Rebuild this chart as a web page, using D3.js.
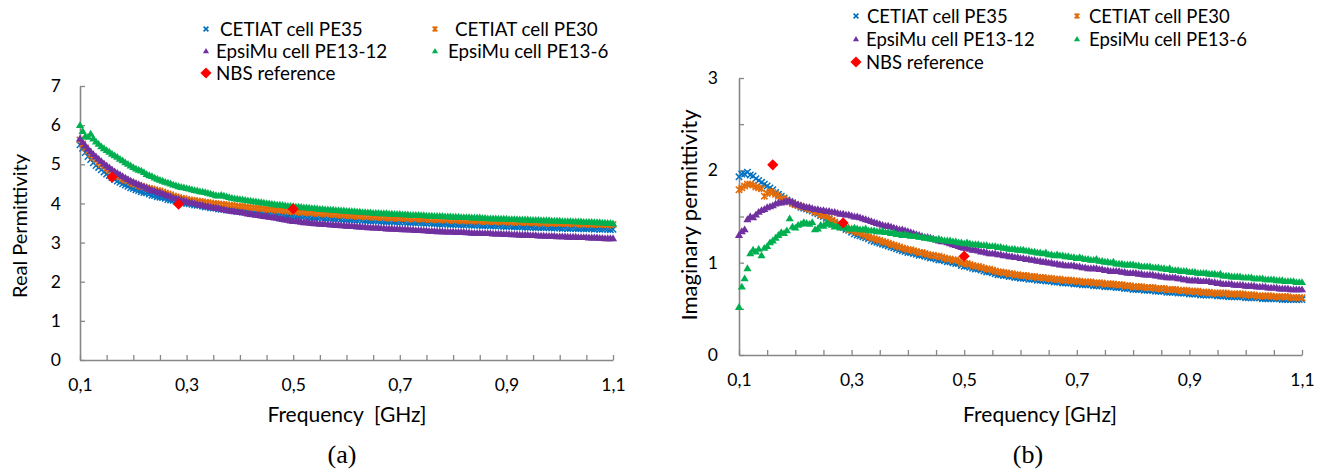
<!DOCTYPE html>
<html>
<head>
<meta charset="utf-8">
<script src="https://cdn.jsdelivr.net/npm/d3@7"></script>
<style>
  body { margin: 0; background: #fff; }
  svg { display: block; }
  text { font-family: Lato, "Open Sans", sans-serif; fill: #000; }
  .caption { font-family: "Liberation Serif", "Times New Roman", serif; }
</style>
</head>
<body>
<svg id="chart" width="1317" height="469"></svg>
<script>
// Measurement frequencies (GHz), 5 MHz sweep
const freq = [
  0.100,0.105,0.110,0.115,0.120,0.125,0.130,0.135,0.140,0.145,0.150,0.155,0.160,0.165,0.170,0.175,0.180,0.185,0.190,0.195,
  0.200,0.205,0.210,0.215,0.220,0.225,0.230,0.235,0.240,0.245,0.250,0.255,0.260,0.265,0.270,0.275,0.280,0.285,0.290,0.295,
  0.300,0.305,0.310,0.315,0.320,0.325,0.330,0.335,0.340,0.345,0.350,0.355,0.360,0.365,0.370,0.375,0.380,0.385,0.390,0.395,
  0.400,0.405,0.410,0.415,0.420,0.425,0.430,0.435,0.440,0.445,0.450,0.455,0.460,0.465,0.470,0.475,0.480,0.485,0.490,0.495,
  0.500,0.505,0.510,0.515,0.520,0.525,0.530,0.535,0.540,0.545,0.550,0.555,0.560,0.565,0.570,0.575,0.580,0.585,0.590,0.595,
  0.600,0.605,0.610,0.615,0.620,0.625,0.630,0.635,0.640,0.645,0.650,0.655,0.660,0.665,0.670,0.675,0.680,0.685,0.690,0.695,
  0.700,0.705,0.710,0.715,0.720,0.725,0.730,0.735,0.740,0.745,0.750,0.755,0.760,0.765,0.770,0.775,0.780,0.785,0.790,0.795,
  0.800,0.805,0.810,0.815,0.820,0.825,0.830,0.835,0.840,0.845,0.850,0.855,0.860,0.865,0.870,0.875,0.880,0.885,0.890,0.895,
  0.900,0.905,0.910,0.915,0.920,0.925,0.930,0.935,0.940,0.945,0.950,0.955,0.960,0.965,0.970,0.975,0.980,0.985,0.990,0.995,
  1.000,1.005,1.010,1.015,1.020,1.025,1.030,1.035,1.040,1.045,1.050,1.055,1.060,1.065,1.070,1.075,1.080,1.085,1.090,1.095,
  1.100
];

const seriesNames = ["CETIAT cell PE35", "CETIAT cell PE30", "EpsiMu cell PE13-12", "EpsiMu cell PE13-6"];
const refName = "NBS reference";

// Real part of permittivity
const realPE35 = [
  5.50,5.41,5.30,5.20,5.12,5.04,4.97,4.92,4.86,4.80,4.75,4.71,4.66,4.61,4.57,4.54,4.50,4.47,4.44,4.40,
  4.38,4.35,4.33,4.30,4.28,4.27,4.24,4.21,4.20,4.17,4.16,4.15,4.13,4.10,4.09,4.08,4.06,4.04,4.03,4.02,
  4.00,3.99,3.98,3.96,3.95,3.95,3.93,3.91,3.91,3.89,3.88,3.88,3.86,3.85,3.85,3.83,3.83,3.82,3.81,3.80,
  3.80,3.78,3.78,3.77,3.77,3.75,3.75,3.75,3.74,3.72,3.73,3.72,3.71,3.72,3.70,3.69,3.69,3.70,3.68,3.67,
  3.67,3.66,3.65,3.66,3.66,3.64,3.64,3.63,3.63,3.63,3.64,3.62,3.61,3.62,3.62,3.60,3.60,3.61,3.59,3.59,
  3.59,3.58,3.58,3.57,3.57,3.58,3.57,3.56,3.56,3.55,3.55,3.56,3.55,3.54,3.54,3.53,3.53,3.54,3.53,3.52,
  3.52,3.53,3.52,3.51,3.51,3.51,3.50,3.51,3.50,3.49,3.49,3.50,3.49,3.48,3.48,3.47,3.47,3.48,3.47,3.46,
  3.46,3.47,3.46,3.45,3.45,3.46,3.45,3.44,3.44,3.45,3.44,3.43,3.43,3.44,3.43,3.42,3.42,3.43,3.42,3.41,
  3.41,3.42,3.41,3.40,3.40,3.41,3.40,3.39,3.39,3.40,3.39,3.38,3.39,3.38,3.38,3.39,3.38,3.37,3.37,3.38,
  3.37,3.36,3.37,3.36,3.36,3.37,3.36,3.35,3.36,3.35,3.35,3.36,3.35,3.34,3.35,3.34,3.34,3.35,3.34,3.33,
  3.34
];
const realPE30 = [
  5.62,5.52,5.42,5.33,5.25,5.18,5.12,5.06,5.00,4.95,4.90,4.85,4.80,4.75,4.71,4.67,4.63,4.60,4.57,4.54,
  4.51,4.48,4.46,4.44,4.42,4.40,4.38,4.37,4.35,4.33,4.32,4.29,4.27,4.24,4.22,4.19,4.17,4.15,4.13,4.12,
  4.10,4.09,4.08,4.07,4.06,4.05,4.04,4.03,4.02,4.01,4.00,3.99,3.98,3.98,3.97,3.96,3.95,3.95,3.94,3.93,
  3.92,3.92,3.91,3.90,3.89,3.89,3.88,3.88,3.87,3.86,3.85,3.85,3.84,3.84,3.83,3.83,3.82,3.81,3.80,3.80,
  3.79,3.79,3.78,3.78,3.77,3.77,3.76,3.77,3.75,3.75,3.74,3.74,3.73,3.74,3.72,3.72,3.71,3.71,3.70,3.71,
  3.69,3.69,3.68,3.69,3.67,3.67,3.67,3.66,3.66,3.67,3.65,3.65,3.65,3.64,3.64,3.65,3.63,3.63,3.63,3.62,
  3.62,3.63,3.62,3.61,3.61,3.62,3.61,3.60,3.60,3.61,3.60,3.59,3.59,3.60,3.59,3.58,3.58,3.59,3.58,3.57,
  3.57,3.58,3.57,3.56,3.56,3.57,3.56,3.55,3.55,3.56,3.55,3.54,3.54,3.55,3.54,3.54,3.53,3.53,3.54,3.53,
  3.53,3.53,3.52,3.52,3.53,3.52,3.52,3.51,3.51,3.52,3.51,3.50,3.50,3.51,3.50,3.50,3.49,3.49,3.50,3.49,
  3.49,3.49,3.49,3.48,3.48,3.49,3.48,3.48,3.47,3.47,3.48,3.47,3.47,3.46,3.47,3.46,3.46,3.46,3.45,3.46,
  3.46
];
const realPE13_12 = [
  5.66,5.57,5.48,5.40,5.33,5.26,5.20,5.14,5.08,5.02,4.97,4.92,4.87,4.82,4.78,4.74,4.70,4.66,4.62,4.58,
  4.55,4.52,4.49,4.46,4.43,4.40,4.37,4.34,4.32,4.30,4.28,4.25,4.23,4.20,4.18,4.15,4.13,4.11,4.09,4.07,
  4.05,4.03,4.02,4.00,3.99,3.97,3.96,3.94,3.93,3.91,3.90,3.89,3.88,3.86,3.85,3.83,3.82,3.81,3.80,3.79,
  3.78,3.77,3.76,3.74,3.73,3.72,3.71,3.70,3.69,3.68,3.67,3.66,3.65,3.64,3.63,3.61,3.60,3.59,3.58,3.56,
  3.55,3.55,3.54,3.53,3.52,3.52,3.51,3.50,3.49,3.49,3.48,3.48,3.47,3.47,3.46,3.46,3.45,3.45,3.44,3.44,
  3.43,3.43,3.42,3.42,3.41,3.41,3.40,3.40,3.39,3.39,3.38,3.38,3.38,3.37,3.37,3.36,3.36,3.36,3.35,3.35,
  3.35,3.34,3.34,3.34,3.33,3.33,3.32,3.32,3.32,3.31,3.31,3.30,3.30,3.30,3.29,3.29,3.29,3.28,3.28,3.28,
  3.28,3.27,3.27,3.27,3.27,3.26,3.26,3.25,3.25,3.25,3.25,3.24,3.24,3.24,3.24,3.23,3.23,3.23,3.23,3.22,
  3.22,3.22,3.21,3.21,3.21,3.20,3.20,3.20,3.20,3.19,3.19,3.19,3.18,3.18,3.18,3.17,3.17,3.17,3.17,3.16,
  3.16,3.16,3.16,3.15,3.15,3.15,3.15,3.14,3.14,3.14,3.14,3.13,3.13,3.13,3.13,3.12,3.12,3.11,3.11,3.11,
  3.11
];
const realPE13_6 = [
  6.00,5.85,5.72,5.70,5.78,5.66,5.58,5.52,5.46,5.41,5.36,5.32,5.27,5.23,5.19,5.14,5.10,5.05,5.01,4.97,
  4.93,4.89,4.86,4.84,4.80,4.75,4.72,4.70,4.66,4.63,4.60,4.58,4.55,4.53,4.51,4.48,4.46,4.44,4.42,4.41,
  4.39,4.38,4.36,4.34,4.33,4.31,4.30,4.29,4.27,4.25,4.23,4.21,4.20,4.22,4.20,4.18,4.16,4.14,4.13,4.12,
  4.11,4.10,4.09,4.08,4.07,4.06,4.05,4.04,4.03,4.02,4.01,4.00,3.99,3.98,3.97,3.97,3.96,3.95,3.94,3.94,
  3.93,3.92,3.92,3.91,3.90,3.90,3.89,3.88,3.88,3.87,3.86,3.86,3.85,3.85,3.84,3.84,3.83,3.83,3.82,3.82,
  3.81,3.81,3.80,3.80,3.79,3.79,3.78,3.78,3.77,3.77,3.76,3.76,3.76,3.75,3.75,3.75,3.74,3.74,3.73,3.73,
  3.73,3.72,3.72,3.72,3.71,3.71,3.71,3.71,3.70,3.70,3.69,3.69,3.69,3.68,3.68,3.68,3.68,3.67,3.67,3.67,
  3.66,3.66,3.66,3.65,3.65,3.65,3.65,3.64,3.64,3.64,3.64,3.63,3.63,3.62,3.62,3.62,3.62,3.61,3.61,3.61,
  3.61,3.60,3.60,3.60,3.60,3.59,3.59,3.59,3.59,3.58,3.58,3.58,3.58,3.57,3.57,3.57,3.57,3.56,3.56,3.56,
  3.56,3.55,3.55,3.55,3.55,3.54,3.54,3.54,3.54,3.53,3.53,3.53,3.53,3.52,3.52,3.52,3.51,3.51,3.50,3.50,
  3.49
];

// Imaginary part of permittivity
const imagPE35 = [
  1.93,1.96,1.96,1.98,1.95,1.94,1.91,1.89,1.87,1.85,1.83,1.81,1.79,1.76,1.74,1.72,1.70,1.68,1.66,1.65,
  1.63,1.62,1.60,1.59,1.58,1.57,1.56,1.54,1.53,1.51,1.50,1.48,1.47,1.45,1.43,1.41,1.39,1.38,1.36,1.35,
  1.33,1.31,1.30,1.29,1.28,1.27,1.26,1.24,1.23,1.22,1.21,1.20,1.19,1.18,1.17,1.16,1.15,1.14,1.13,1.12,
  1.11,1.11,1.10,1.09,1.08,1.08,1.07,1.06,1.05,1.05,1.04,1.03,1.03,1.02,1.01,1.01,1.00,0.99,0.99,0.97,
  0.96,0.96,0.95,0.94,0.93,0.93,0.92,0.91,0.90,0.90,0.89,0.88,0.87,0.87,0.86,0.86,0.85,0.85,0.84,0.84,
  0.83,0.83,0.83,0.82,0.82,0.82,0.81,0.81,0.81,0.80,0.80,0.80,0.79,0.79,0.79,0.78,0.78,0.78,0.78,0.77,
  0.77,0.77,0.76,0.76,0.76,0.76,0.75,0.75,0.75,0.75,0.74,0.74,0.74,0.74,0.73,0.73,0.73,0.72,0.72,0.72,
  0.71,0.71,0.71,0.71,0.70,0.70,0.70,0.70,0.69,0.69,0.69,0.69,0.68,0.68,0.68,0.68,0.67,0.67,0.67,0.67,
  0.66,0.66,0.66,0.66,0.65,0.65,0.65,0.65,0.65,0.65,0.64,0.64,0.64,0.64,0.63,0.63,0.63,0.63,0.63,0.63,
  0.62,0.62,0.62,0.62,0.62,0.62,0.61,0.61,0.61,0.61,0.61,0.61,0.61,0.60,0.60,0.60,0.60,0.60,0.60,0.60,
  0.60
];
const imagPE30 = [
  1.79,1.81,1.83,1.85,1.85,1.84,1.82,1.81,1.80,1.72,1.75,1.77,1.76,1.74,1.72,1.70,1.69,1.67,1.66,1.64,
  1.63,1.62,1.61,1.60,1.59,1.58,1.57,1.55,1.54,1.52,1.51,1.50,1.48,1.46,1.44,1.42,1.41,1.39,1.38,1.36,
  1.35,1.34,1.33,1.32,1.31,1.29,1.28,1.27,1.26,1.25,1.24,1.23,1.22,1.21,1.20,1.19,1.18,1.17,1.16,1.15,
  1.14,1.14,1.13,1.12,1.11,1.11,1.10,1.09,1.08,1.08,1.07,1.07,1.06,1.05,1.04,1.04,1.03,1.03,1.02,1.00,
  0.99,0.99,0.98,0.97,0.96,0.96,0.95,0.94,0.93,0.93,0.92,0.91,0.90,0.90,0.89,0.89,0.88,0.88,0.87,0.87,
  0.86,0.86,0.86,0.85,0.85,0.85,0.84,0.84,0.84,0.83,0.83,0.83,0.82,0.82,0.82,0.81,0.81,0.81,0.81,0.80,
  0.80,0.80,0.79,0.79,0.79,0.79,0.78,0.78,0.78,0.78,0.77,0.77,0.77,0.77,0.76,0.76,0.76,0.75,0.75,0.75,
  0.74,0.74,0.74,0.74,0.73,0.73,0.73,0.73,0.72,0.72,0.72,0.72,0.71,0.71,0.71,0.71,0.70,0.70,0.70,0.70,
  0.69,0.69,0.69,0.69,0.68,0.68,0.68,0.68,0.67,0.67,0.67,0.67,0.67,0.67,0.66,0.66,0.66,0.66,0.66,0.66,
  0.65,0.65,0.65,0.65,0.64,0.64,0.64,0.64,0.64,0.64,0.63,0.63,0.63,0.63,0.63,0.63,0.62,0.62,0.62,0.62,
  0.62
];
const imagPE13_12 = [
  1.30,1.34,1.36,1.47,1.50,1.49,1.52,1.55,1.57,1.58,1.60,1.61,1.62,1.64,1.65,1.65,1.66,1.67,1.67,1.66,
  1.64,1.63,1.62,1.61,1.60,1.60,1.59,1.58,1.58,1.57,1.57,1.56,1.56,1.55,1.55,1.54,1.53,1.53,1.52,1.52,
  1.51,1.50,1.50,1.49,1.48,1.47,1.46,1.45,1.44,1.43,1.42,1.41,1.40,1.40,1.39,1.38,1.37,1.36,1.36,1.35,
  1.34,1.33,1.32,1.31,1.30,1.29,1.28,1.28,1.27,1.26,1.25,1.24,1.23,1.23,1.22,1.21,1.20,1.19,1.18,1.17,
  1.16,1.16,1.15,1.14,1.14,1.13,1.12,1.12,1.11,1.10,1.10,1.10,1.09,1.09,1.08,1.08,1.07,1.07,1.06,1.06,
  1.05,1.05,1.04,1.04,1.03,1.03,1.02,1.02,1.01,1.01,1.00,1.00,0.99,0.99,0.98,0.98,0.97,0.97,0.97,0.97,
  0.96,0.96,0.95,0.95,0.94,0.94,0.94,0.94,0.93,0.93,0.92,0.92,0.91,0.91,0.91,0.91,0.90,0.90,0.89,0.89,
  0.89,0.89,0.88,0.88,0.87,0.87,0.87,0.87,0.86,0.86,0.85,0.85,0.84,0.84,0.84,0.84,0.83,0.83,0.82,0.82,
  0.81,0.81,0.81,0.81,0.80,0.80,0.80,0.80,0.79,0.79,0.78,0.78,0.77,0.77,0.77,0.77,0.76,0.76,0.76,0.76,
  0.75,0.75,0.75,0.75,0.74,0.74,0.74,0.74,0.73,0.73,0.73,0.73,0.72,0.72,0.72,0.72,0.71,0.71,0.71,0.71,
  0.71
];
const imagPE13_6 = [
  0.52,0.74,0.83,0.94,1.10,1.14,1.12,1.15,1.08,1.16,1.18,1.22,1.24,1.27,1.30,1.33,1.32,1.35,1.48,1.39,
  1.38,1.41,1.42,1.44,1.43,1.42,1.44,1.36,1.37,1.41,1.40,1.43,1.42,1.41,1.39,1.40,1.38,1.39,1.38,1.37,
  1.37,1.38,1.37,1.36,1.36,1.37,1.35,1.35,1.35,1.34,1.34,1.34,1.33,1.33,1.32,1.33,1.31,1.31,1.30,1.31,
  1.30,1.29,1.29,1.29,1.28,1.28,1.27,1.27,1.26,1.26,1.25,1.26,1.25,1.24,1.24,1.24,1.23,1.23,1.22,1.22,
  1.21,1.22,1.21,1.20,1.20,1.20,1.19,1.19,1.19,1.18,1.18,1.18,1.17,1.17,1.16,1.16,1.15,1.15,1.15,1.14,
  1.14,1.14,1.13,1.13,1.12,1.12,1.11,1.11,1.10,1.11,1.09,1.09,1.08,1.09,1.08,1.08,1.07,1.07,1.06,1.06,
  1.05,1.06,1.05,1.04,1.04,1.03,1.03,1.04,1.02,1.02,1.01,1.01,1.00,1.01,0.99,0.99,0.99,0.98,0.98,0.98,
  0.98,0.97,0.97,0.96,0.96,0.96,0.96,0.95,0.95,0.95,0.94,0.94,0.93,0.94,0.92,0.92,0.92,0.91,0.91,0.91,
  0.90,0.90,0.90,0.89,0.89,0.89,0.89,0.88,0.88,0.88,0.87,0.88,0.86,0.86,0.86,0.85,0.85,0.85,0.85,0.84,
  0.84,0.84,0.84,0.83,0.83,0.83,0.83,0.82,0.82,0.82,0.82,0.81,0.81,0.81,0.80,0.80,0.80,0.80,0.79,0.79,
  0.79
];

// NBS reference points
const refFreq = [0.16, 0.285, 0.50];
const refReal = [4.67, 3.98, 3.86];
const refImag = [2.06, 1.43, 1.07];

// Axis ticks and labels
const xLabelValues = [0.1, 0.3, 0.5, 0.7, 0.9, 1.1];
const xLabels = ["0,1", "0,3", "0,5", "0,7", "0,9", "1,1"];
const xMinorTicks = [0.1,0.15,0.2,0.25,0.3,0.35,0.4,0.45,0.5,0.55,0.6,0.65,0.7,0.75,0.8,0.85,0.9,0.95,1.0,1.05,1.1];
const realTicks = [0, 1, 2, 3, 4, 5, 6, 7];
const imagLabelTicks = [0, 1, 2, 3];
const imagTicks = [0, 0.5, 1, 1.5, 2, 2.5, 3];

const colors = ["#0070C0", "#E36C09", "#7030A0", "#00B050"];
const refColor = "#FF0000";
const axisColor = "#878787";

const svg = d3.select("#chart");

// Marker shapes
function markerPath(kind, h) {
  switch (kind) {
    case "times": return `M${-h},${-h}L${h},${h}M${-h},${h}L${h},${-h}`;
    case "star": return `M${-h},${-h}L${h},${h}M${-h},${h}L${h},${-h}M0,${-h * 1.1}L0,${h * 1.1}`;
    case "triangle": return `M0,${-h}L${h * 1.05},${h * 0.75}L${-h * 1.05},${h * 0.75}Z`;
    case "diamond": return `M0,${-h}L${h},0L0,${h}L${-h},0Z`;
  }
}
const kinds = ["times", "star", "triangle", "triangle"];
function styleMarker(sel, kind, color, sw) {
  if (kind === "times" || kind === "star") {
    sel.attr("fill", "none").attr("stroke", color).attr("stroke-width", sw);
  } else {
    sel.attr("fill", color).attr("stroke", "none");
  }
}
const markerSize = { times: 3.2, star: 3.2, triangle: 3.9, diamond: 5.6 };

function drawPanel(cfg) {
  const g = svg.append("g");
  const x = d3.scaleLinear().domain([0.1, 1.1]).range([cfg.left, cfg.right]);
  const y = d3.scaleLinear().domain([0, cfg.yMax]).range([cfg.bottom, cfg.top]);

  // x axis: minor ticks every 0.05, pointing inward
  const xAxis = g.append("g").attr("transform", `translate(0,${cfg.bottom})`)
    .call(d3.axisBottom(x).tickValues(xMinorTicks).tickSize(-5).tickSizeOuter(0).tickFormat(""));
  const xLab = g.append("g").attr("transform", `translate(0,${cfg.bottom})`)
    .call(d3.axisBottom(x).tickValues(xLabelValues).tickSize(0).tickPadding(cfg.xPad)
      .tickFormat((d, i) => xLabels[i]));
  xLab.select(".domain").remove();

  const yAxis = g.append("g").attr("transform", `translate(${cfg.left},0)`)
    .call(d3.axisLeft(y).tickValues(cfg.yTicks).tickSize(-5).tickSizeOuter(0).tickFormat(""));
  const yLab = g.append("g").attr("transform", `translate(${cfg.left},0)`)
    .call(d3.axisLeft(y).tickValues(cfg.yLabels).tickSize(0).tickPadding(cfg.yPad)
      .tickFormat(d3.format("d")));
  yLab.select(".domain").remove();

  [xAxis, yAxis].forEach(a => {
    a.select(".domain").attr("stroke", axisColor).attr("stroke-width", 1.6);
    a.selectAll(".tick line").attr("stroke", axisColor).attr("stroke-width", 1.3);
  });
  [xLab, yLab].forEach(a => {
    a.selectAll("text").attr("font-family", "Lato, sans-serif").attr("font-size", 17.5).attr("fill", "#000");
  });

  // series
  cfg.series.forEach((vals, si) => {
    const kind = kinds[si];
    const pts = g.append("g").selectAll("path").data(vals).join("path")
      .attr("transform", (d, i) => `translate(${x(freq[i])},${y(d)})`)
      .attr("d", markerPath(kind, markerSize[kind]));
    styleMarker(pts, kind, colors[si], 1.5);
  });
  g.append("g").selectAll("path").data(cfg.ref).join("path")
    .attr("transform", (d, i) => `translate(${x(refFreq[i])},${y(d)})`)
    .attr("d", markerPath("diamond", markerSize.diamond))
    .attr("fill", refColor);

  // axis titles
  g.append("text")
    .attr("transform", `translate(${cfg.yTitleX},${cfg.yTitleY}) rotate(-90)`)
    .attr("text-anchor", "middle").attr("font-size", cfg.yTitleSize)
    .text(cfg.yTitle);
  g.append("text")
    .attr("x", cfg.xTitleX).attr("y", cfg.xTitleY)
    .attr("text-anchor", "middle").attr("font-size", cfg.xTitleSize)
    .attr("xml:space", "preserve")
    .style("white-space", "pre")
    .text(cfg.xTitle);
  g.append("text").attr("class", "caption")
    .attr("x", cfg.capX).attr("y", cfg.capY)
    .attr("text-anchor", "middle").attr("font-size", 26)
    .text(cfg.caption);

  // legend
  const items = [
    { name: seriesNames[0], kind: "times", color: colors[0], col: 0, row: 0 },
    { name: seriesNames[1], kind: "star", color: colors[1], col: 1, row: 0 },
    { name: seriesNames[2], kind: "triangle", color: colors[2], col: 0, row: 1 },
    { name: seriesNames[3], kind: "triangle", color: colors[3], col: 1, row: 1 },
    { name: refName, kind: "diamond", color: refColor, col: 0, row: 2 }
  ];
  items.forEach((it, k) => {
    const mx = cfg.legendX[it.col];
    const my = cfg.legendY[it.row];
    const sizeScale = it.kind === "diamond" ? 1 : 0.75;
    const m = g.append("path")
      .attr("transform", `translate(${mx},${my})`)
      .attr("d", markerPath(it.kind, markerSize[it.kind] * sizeScale));
    styleMarker(m, it.kind, it.color, 1.6);
    g.append("text")
      .attr("x", mx + cfg.legendGap[k]).attr("y", my)
      .attr("dy", "0.36em").attr("font-size", cfg.legendSize)
      .text(it.name);
  });
}

drawPanel({
  left: 80, right: 613, bottom: 360, top: 86, yMax: 7,
  yTicks: realTicks, yLabels: realTicks, xPad: 19, yPad: 19,
  series: [realPE35, realPE30, realPE13_12, realPE13_6], ref: refReal,
  yTitle: "Real Permittivity", yTitleX: 27, yTitleY: 226, yTitleSize: 20,
  xTitle: "Frequency  [GHz]", xTitleX: 347, xTitleY: 422, xTitleSize: 21,
  caption: "(a)", capX: 342, capY: 463,
  legendX: [206, 435], legendY: [29, 51, 73], legendGap: [14, 20, 10, 13, 10], legendSize: 18.8
});

drawPanel({
  left: 739, right: 1302, bottom: 355, top: 78, yMax: 3,
  yTicks: imagTicks, yLabels: imagLabelTicks, xPad: 19, yPad: 21,
  series: [imagPE35, imagPE30, imagPE13_12, imagPE13_6], ref: refImag,
  yTitle: "Imaginary permittivity", yTitleX: 697, yTitleY: 215, yTitleSize: 22,
  xTitle: "Frequency [GHz]", xTitleX: 1040, xTitleY: 422, xTitleSize: 21,
  caption: "(b)", capX: 1028, capY: 463,
  legendX: [856, 1077], legendY: [16, 39, 62], legendGap: [11, 12, 10, 12, 10], legendSize: 18.5
});
</script>
</body>
</html>
